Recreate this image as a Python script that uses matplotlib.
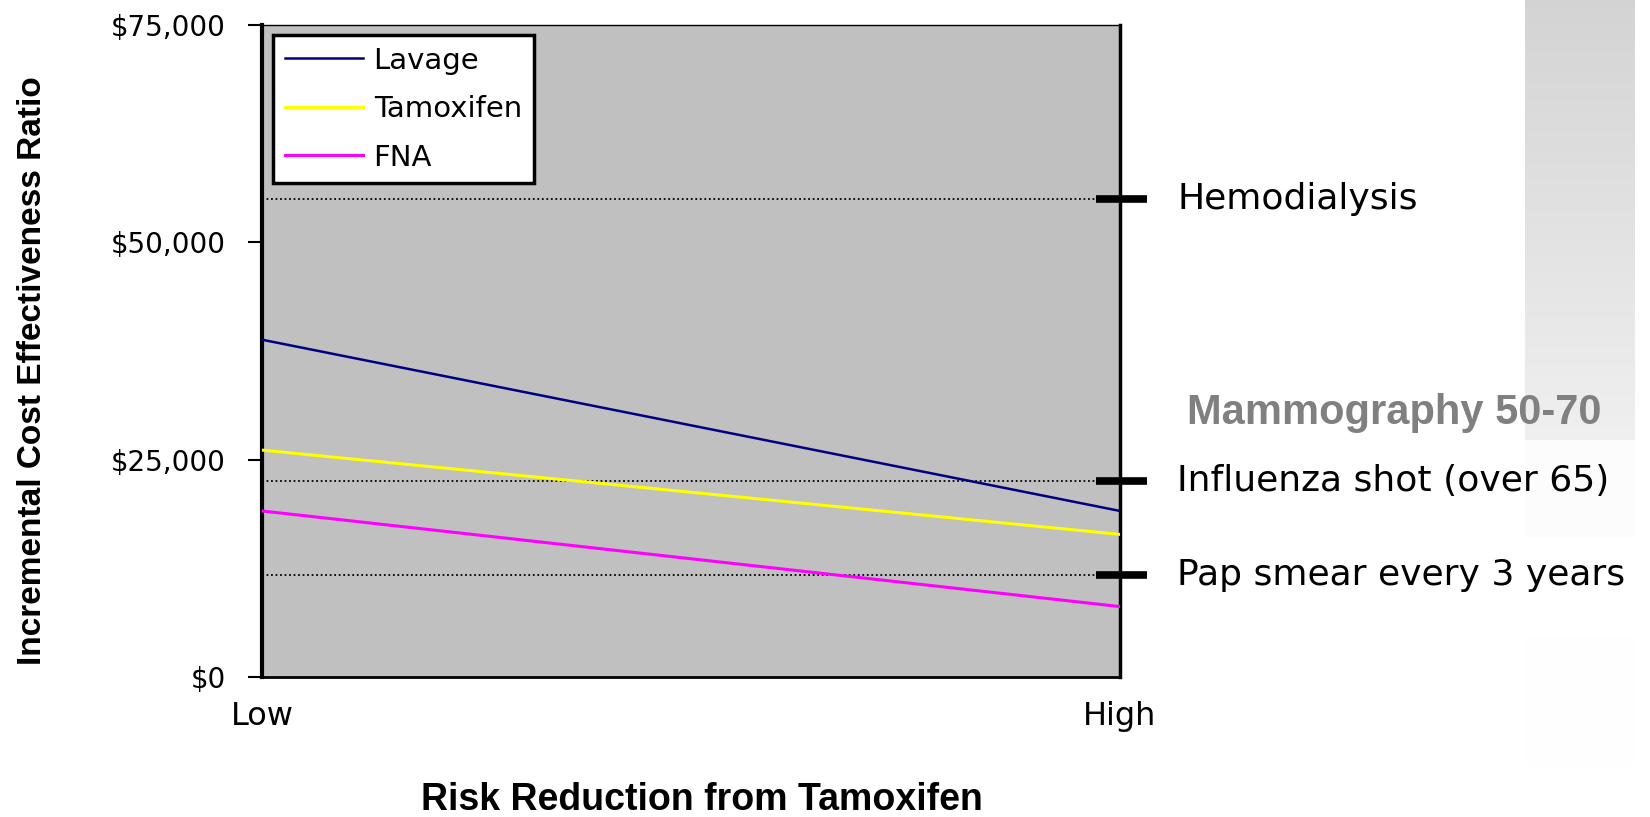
import numpy as np
import matplotlib
matplotlib.use("Agg")
import matplotlib.pyplot as plt
from matplotlib.ticker import FuncFormatter
from matplotlib.transforms import Bbox

# Data
risk_levels = ["Low", "High"]
lavage = [38800, 19100]
tamoxifen = [26100, 16400]
fna = [19100, 8100]

benchmark_names = ["Hemodialysis", "Influenza shot (over 65)", "Pap smear every 3 years"]
benchmark_values = [55000, 22500, 11700]

y_ticks = [0, 25000, 50000, 75000]

W, H = 1650, 817
fig = plt.figure(figsize=(W / 100, H / 100), dpi=100)
fig.patch.set_facecolor("white")

# gradient panel on the right edge (slide background)
panel = fig.add_axes([1525 / W, 1 - 440 / H, 110 / W, 440 / H], zorder=-5)
grad = np.linspace(0.83, 0.94, 100).reshape(-1, 1)
panel.imshow(np.dstack([grad, grad, grad]), aspect="auto", extent=(0, 1, 0, 1))
panel.set_axis_off()
for top, bot, c in [(440, 537, "#fcfcfc"), (637, 767, "#fefefe")]:
    p = fig.add_axes([1525 / W, 1 - bot / H, 110 / W, (bot - top) / H], zorder=-5)
    p.set_facecolor(c)
    p.set_xticks([])
    p.set_yticks([])
    for s in p.spines.values():
        s.set_visible(False)

ax = fig.add_axes([262 / W, 1 - 677 / H, 858 / W, 652 / H])
ax.set_facecolor("#c0c0c0")

x = np.arange(len(risk_levels))
ax.plot(x, lavage, color="#000080", lw=1.8, label="Lavage", zorder=3)
ax.plot(x, tamoxifen, color="#ffff00", lw=2.2, label="Tamoxifen", zorder=3)
ax.plot(x, fna, color="#ff00ff", lw=2.2, label="FNA", zorder=3)

ax.set_xlim(0, 1)
ax.set_ylim(0, 75000)

# benchmark lines: dotted inside, thick dash crossing the right axis
tr = ax.get_yaxis_transform()
x_dash = (1096 - 262) / 858
x_end = (1147 - 262) / 858
for name, val in zip(benchmark_names, benchmark_values):
    ax.plot([0, x_dash], [val, val], transform=tr, color="black", ls=(0, (1, 1.5)), lw=1.3, zorder=2)
    ax.plot([x_dash, x_end], [val, val], transform=tr, color="black", lw=5.5,
            solid_capstyle="butt", clip_on=False, zorder=4)
    t = ax.text(1.067, val, name, transform=tr, fontsize=26, family="DejaVu Sans",
                ha="left", va="center", clip_on=True)
    t.set_clip_box(Bbox([[0, 0], [1635, H]]))

fig.text(1187 / W, 1 - 413 / H, "Mammography 50-70", fontsize=30, fontweight="bold",
         family="Liberation Sans", color="#808080", ha="left", va="center", zorder=5)

ax.set_yticks(y_ticks)
ax.yaxis.set_major_formatter(FuncFormatter(lambda v, p: "${:,.0f}".format(v)))
ax.set_xticks(x)
ax.set_xticklabels(risk_levels)
ax.tick_params(axis="y", direction="out", length=10, width=1.5, pad=16, labelsize=20)
ax.tick_params(axis="x", length=0, pad=17, labelsize=23)

ax.spines["left"].set_linewidth(3)
ax.spines["right"].set_linewidth(2.5)
ax.spines["bottom"].set_linewidth(2)
ax.spines["top"].set_linewidth(1)

fig.text(33 / W, 1 - 371 / H, "Incremental Cost Effectiveness Ratio", rotation=90,
         fontsize=24, fontweight="bold", family="Liberation Sans",
         ha="center", va="center")
fig.text(702 / W, 1 - 800 / H, "Risk Reduction from Tamoxifen", fontsize=27,
         fontweight="bold", family="Liberation Sans",
         ha="center", va="center")

leg = ax.legend(loc="upper left", bbox_to_anchor=((273 - 262) / 858, (677 - 35) / 652),
                borderaxespad=0, fontsize=21, fancybox=False, framealpha=1,
                edgecolor="black", handlelength=2.7, handletextpad=0.35,
                labelspacing=0.7, borderpad=0.4)
leg.get_frame().set_linewidth(2.5)

fig.savefig("out.png", dpi=100)
